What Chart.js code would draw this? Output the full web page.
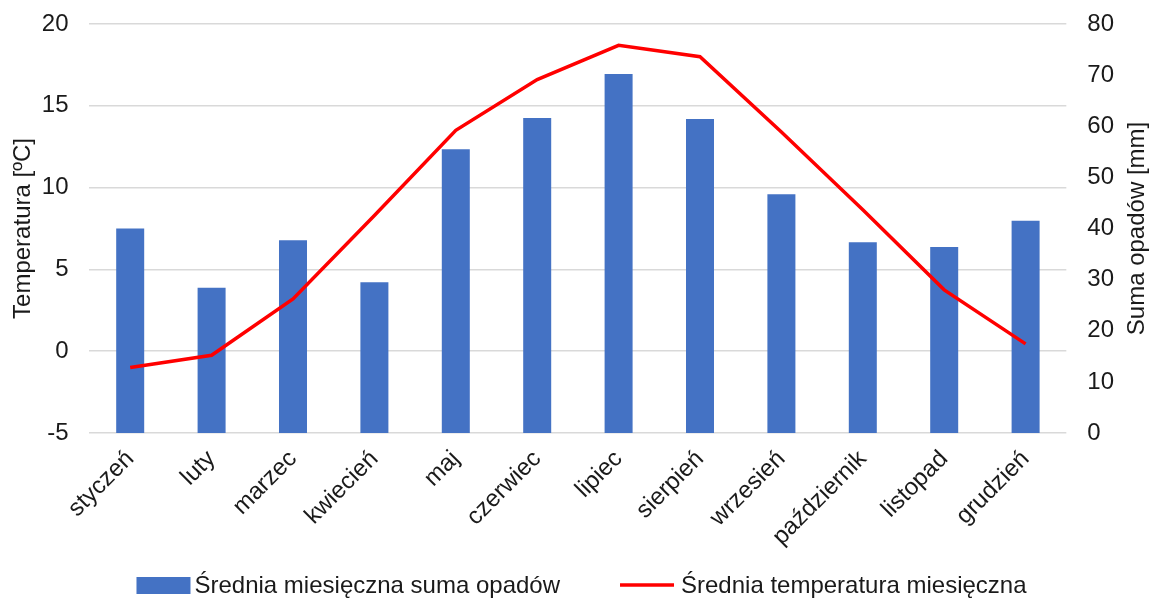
<!DOCTYPE html>
<html>
<head>
<meta charset="utf-8">
<script src="https://cdn.jsdelivr.net/npm/chart.js@4/dist/chart.umd.min.js"></script>
<style>
html,body{margin:0;padding:0;background:#fff;}
#wrap{width:1151px;height:603px;position:relative;}
</style>
</head>
<body>
<div id="wrap"><canvas id="c" width="1151" height="603"></canvas></div>
<script>
const months = ['styczeń','luty','marzec','kwiecień','maj','czerwiec','lipiec','sierpień','wrzesień','październik','listopad','grudzień'];
const precipitation = [40.0, 28.4, 37.7, 29.5, 55.5, 61.6, 70.2, 61.4, 46.7, 37.3, 36.4, 41.5];
const temperature = [-1.0, -0.25, 3.2, 8.3, 13.5, 16.6, 18.7, 18.0, 13.4, 8.65, 3.75, 0.45];
const precipLabel = 'Średnia miesięczna suma opadów';
const tempLabel = 'Średnia temperatura miesięczna';
const leftTitle = 'Temperatura [ºC]';
const rightTitle = 'Suma opadów [mm]';

const FONT = '"Liberation Sans", Arial, sans-serif';
const TXT = '#1a1a1a';

const rightTitlePlugin = {
  id: 'rightTitle',
  afterDraw(chart) {
    const s = chart.scales.yR;
    const ca = chart.chartArea;
    const ctx = chart.ctx;
    ctx.save();
    ctx.font = '24px ' + FONT;
    ctx.fillStyle = TXT;
    ctx.textAlign = 'center';
    ctx.textBaseline = 'middle';
    ctx.translate(s.right - 14, (ca.top + ca.bottom) / 2);
    ctx.rotate(-Math.PI / 2);
    ctx.fillText(rightTitle, 0, 0);
    ctx.restore();
  }
};

// Legend drawn inside the canvas (swatch + text per dataset, in dataset order)
const bottomLegendPlugin = {
  id: 'bottomLegend',
  afterDraw(chart) {
    const ctx = chart.ctx;
    const ds = chart.data.datasets;
    ctx.save();
    ctx.font = '24px ' + FONT;
    ctx.textBaseline = 'middle';
    ctx.textAlign = 'left';
    const swW = 54, gapBar = 4, gapLine = 7, itemGap = 60;
    const w0 = ctx.measureText(ds[0].label).width;
    const w1 = ctx.measureText(ds[1].label).width;
    const total = swW + gapBar + w0 + itemGap + swW + gapLine + w1;
    let x = (chart.width - total) / 2 + 6;
    const y = chart.height - 18;
    ctx.fillStyle = ds[0].backgroundColor;
    ctx.fillRect(x, y - 8, swW, 17);
    x += swW + gapBar;
    ctx.fillStyle = TXT;
    ctx.fillText(ds[0].label, x, y + 1);
    x += w0 + itemGap;
    ctx.strokeStyle = ds[1].borderColor;
    ctx.lineWidth = ds[1].borderWidth;
    ctx.beginPath();
    ctx.moveTo(x, y);
    ctx.lineTo(x + swW, y);
    ctx.stroke();
    x += swW + gapLine;
    ctx.fillStyle = TXT;
    ctx.fillText(ds[1].label, x, y + 1);
    ctx.restore();
  }
};

new Chart(document.getElementById('c'), {
  data: {
    labels: months,
    datasets: [
      {
        type: 'bar',
        label: precipLabel,
        data: precipitation,
        yAxisID: 'yR',
        backgroundColor: '#4472C4',
        borderWidth: 0,
        barPercentage: 0.344,
        categoryPercentage: 1,
        order: 2
      },
      {
        type: 'line',
        label: tempLabel,
        data: temperature,
        yAxisID: 'yL',
        borderColor: '#FF0000',
        backgroundColor: '#FF0000',
        borderWidth: 3.5,
        pointRadius: 0,
        tension: 0,
        order: 1
      }
    ]
  },
  options: {
    responsive: false,
    animation: false,
    devicePixelRatio: 1,
    layout: { padding: { left: 5, right: 0, top: 0, bottom: 48 } },
    plugins: {
      tooltip: { enabled: false },
      legend: { display: false }
    },
    scales: {
      x: {
        offset: true,
        grid: { display: false, drawTicks: false },
        border: { display: false },
        ticks: {
          color: TXT,
          font: { size: 24, family: FONT },
          minRotation: 45,
          maxRotation: 45,
          autoSkip: false,
          padding: 12
        },
        afterFit: (s) => { s.height = 122; s.paddingLeft = 0; s.paddingRight = 0; }
      },
      yL: {
        type: 'linear',
        position: 'left',
        min: -5,
        max: 20,
        ticks: { stepSize: 5, color: TXT, font: { size: 24, family: FONT }, padding: 21 },
        grid: { color: '#d9d9d9', lineWidth: 1.5, drawTicks: false },
        border: { display: false },
        title: { display: true, text: leftTitle, color: TXT, font: { size: 24, family: FONT }, padding: { top: 4, bottom: 4 } },
        afterFit: (s) => { s.width -= 21; s.paddingTop = 24; s.paddingBottom = 0; }
      },
      yR: {
        type: 'linear',
        position: 'right',
        min: 0,
        max: 80,
        ticks: { stepSize: 10, color: TXT, font: { size: 24, family: FONT }, padding: 21 },
        grid: { display: false, drawTicks: false },
        border: { display: false },
        afterFit: (s) => { s.width += 16; s.paddingTop = 24; s.paddingBottom = 0; }
      }
    }
  },
  plugins: [rightTitlePlugin, bottomLegendPlugin]
});
</script>
</body>
</html>
